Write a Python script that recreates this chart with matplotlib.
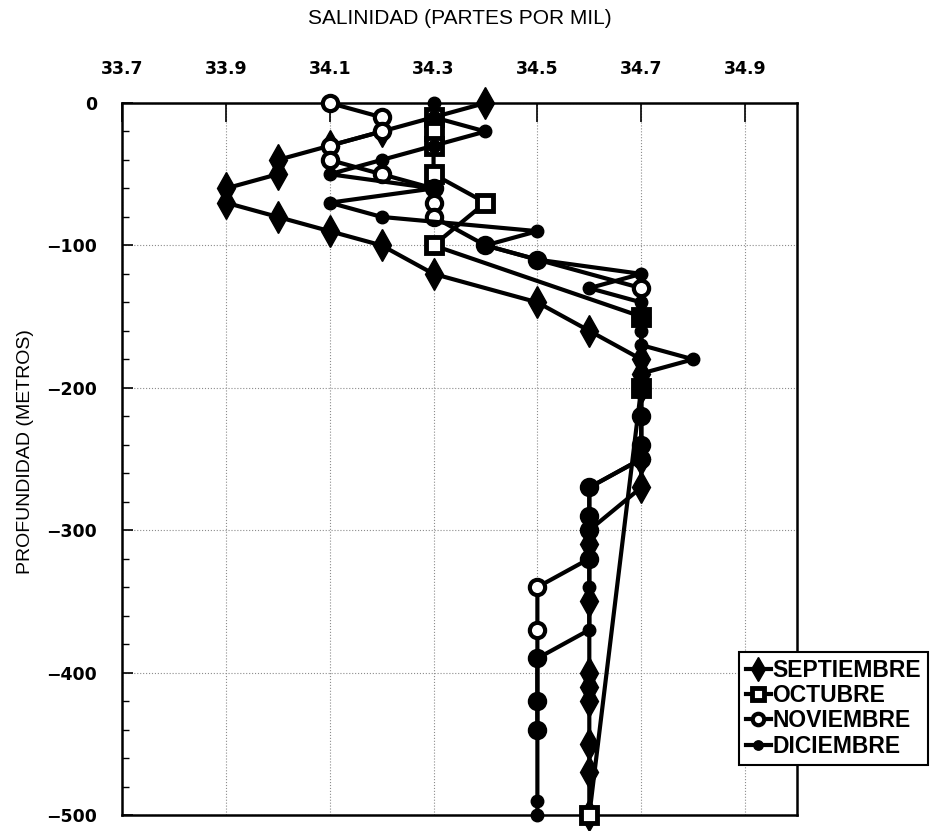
import numpy as np
import matplotlib
matplotlib.use("Agg")
import matplotlib.pyplot as plt
from matplotlib.ticker import MultipleLocator

plt.rcParams['font.family'] = ['Liberation Sans', 'DejaVu Sans']

# salinity profiles (partes por mil) vs depth (m)
sept_depth = [0, -10, -20, -30, -40, -50, -60, -70, -80, -90, -100, -120, -140, -160,
              -180, -190, -200, -250, -270, -300, -310, -350, -400, -410, -420, -450, -470, -500]
sept_sal = [34.4, 34.3, 34.2, 34.1, 34.0, 34.0, 33.9, 33.9, 34.0, 34.1, 34.2, 34.3, 34.5, 34.6,
            34.7, 34.7, 34.7, 34.7, 34.7, 34.6, 34.6, 34.6, 34.6, 34.6, 34.6, 34.6, 34.6, 34.6]

oct_depth = [-10, -20, -30, -50, -70, -100, -150, -200, -500]
oct_sal = [34.3, 34.3, 34.3, 34.3, 34.4, 34.3, 34.7, 34.7, 34.6]

nov_depth = [0, -10, -20, -30, -40, -50, -60, -70, -80, -100, -110, -130, -150, -200,
             -220, -240, -250, -270, -290, -300, -320, -340, -370, -390, -420, -440]
nov_sal = [34.1, 34.2, 34.2, 34.1, 34.1, 34.2, 34.3, 34.3, 34.3, 34.4, 34.5, 34.7, 34.7, 34.7,
           34.7, 34.7, 34.7, 34.6, 34.6, 34.6, 34.6, 34.5, 34.5, 34.5, 34.5, 34.5]

dic_depth = [0, -10, -20, -30, -40, -50, -60, -70, -80, -90, -100, -110, -120, -130, -140,
             -150, -160, -170, -180, -190, -200, -220, -240, -250, -270, -290, -300, -310,
             -320, -340, -370, -390, -420, -440, -490, -500]
dic_sal = [34.3, 34.3, 34.4, 34.3, 34.2, 34.1, 34.3, 34.1, 34.2, 34.5, 34.4, 34.5, 34.7, 34.6, 34.7,
           34.7, 34.7, 34.7, 34.8, 34.7, 34.7, 34.7, 34.7, 34.7, 34.6, 34.6, 34.6, 34.6,
           34.6, 34.6, 34.6, 34.5, 34.5, 34.5, 34.5, 34.5]

x_ticks = [33.7, 33.9, 34.1, 34.3, 34.5, 34.7, 34.9]
y_ticks = [0, -100, -200, -300, -400, -500]

W, H = 938, 831
fig = plt.figure(figsize=(W / 100, H / 100), dpi=100)
ax = fig.add_axes([122 / W, 1 - 815 / H, (797 - 122) / W, (815 - 103) / H])

lw = 3.0
ax.plot(sept_sal, sept_depth, color='black', lw=lw, marker='d', ms=16, mfc='black', mec='black',
        clip_on=False, zorder=3, label='SEPTIEMBRE')
ax.plot(oct_sal, oct_depth, color='black', lw=lw, marker='s', ms=11, mfc='white', mec='black', mew=3.5,
        clip_on=False, zorder=4, label='OCTUBRE')
ax.plot(nov_sal, nov_depth, color='black', lw=lw, marker='o', ms=11, mfc='white', mec='black', mew=3,
        clip_on=False, zorder=5, label='NOVIEMBRE')
ax.plot(dic_sal, dic_depth, color='black', lw=lw, marker='o', ms=9, mfc='black', mec='black',
        clip_on=False, zorder=6, label='DICIEMBRE')

ax.set_xlim(33.7, 35.0)
ax.set_ylim(-500, 0)
ax.xaxis.tick_top()
ax.set_xticks(x_ticks)
ax.set_xticklabels([f"{v:.1f}" for v in x_ticks])
ax.set_yticks(y_ticks)
ax.yaxis.set_minor_locator(MultipleLocator(20))
ax.tick_params(axis='x', direction='in', length=14, width=1.2, pad=18)
ax.tick_params(axis='y', which='major', direction='in', length=8, width=1.2, pad=18)
ax.tick_params(axis='y', which='minor', direction='in', length=5, width=1)
for lab in ax.get_xticklabels() + ax.get_yticklabels():
    lab.set_fontfamily('DejaVu Sans')
    lab.set_fontweight('bold')
    lab.set_fontsize(12.5)

ax.grid(True, linestyle=':', color='0.55', linewidth=0.8)
for s in ax.spines.values():
    s.set_linewidth(1.8)

ax.xaxis.set_label_position('top')
ax.set_xlabel('SALINIDAD (PARTES POR MIL)', fontsize=15, labelpad=26)
ax.set_ylabel('PROFUNDIDAD (METROS)', fontsize=14)
ax.yaxis.set_label_coords(-0.130, 0.511)

leg = ax.legend(loc='upper left', bbox_to_anchor=(739 / W, 1 - 652 / H), bbox_transform=fig.transFigure,
                prop={'weight': 'bold', 'size': 16.5},
                fancybox=False, framealpha=1, edgecolor='black', borderpad=0.3,
                labelspacing=0.1, handlelength=1.1, handletextpad=0.05, borderaxespad=0,
                markerscale=0.75)
leg.get_frame().set_linewidth(1.5)

fig.savefig('out.png', dpi=100)
